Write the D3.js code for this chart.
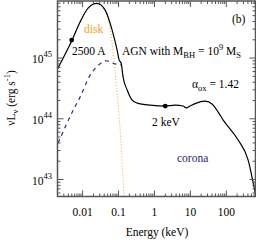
<!DOCTYPE html>
<html>
<head>
<meta charset="utf-8">
<script src="https://cdn.jsdelivr.net/npm/d3@7"></script>
<style>
body { margin: 0; background: #fff; }
svg text { font-family: "Liberation Serif", "Times New Roman", serif; }
</style>
</head>
<body>
<svg id="chart" width="256" height="240"></svg>
<script>
// energy in keV, luminosity as log10(nu L_nu)
const totalE = [0.002, 0.0051, 0.0085, 0.0142, 0.0249, 0.0424, 0.0664, 0.0914, 0.104, 0.118, 0.134, 0.174, 0.239, 0.33, 0.76, 2, 3.77, 6.3, 7.64, 9.87, 13.6, 25.8, 40.7, 59.4, 82, 214, 406, 600, 660];
const totalL = [44.82, 45.297, 45.593, 45.824, 45.90, 45.79, 45.461, 45.132, 44.967, 44.918, 44.687, 44.473, 44.308, 44.259, 44.226, 44.21, 44.226, 44.21, 44.18, 44.21, 44.25, 44.29, 44.24, 44.11, 43.979, 43.65, 43.32, 42.86, 42.74];

const diskE = [0.002, 0.0051, 0.0085, 0.0142, 0.0249, 0.0424, 0.065, 0.0804, 0.106, 0.143];
const diskL = [44.82, 45.297, 45.593, 45.824, 45.90, 45.774, 45.297, 44.753, 43.979, 42.718];

const coronaE = [0.00208, 0.00347, 0.0058, 0.0085, 0.0162, 0.0249, 0.0452, 0.0721, 0.116];
const coronaL = [43.6, 43.896, 44.171, 44.357, 44.72, 44.857, 44.956, 44.913, 44.885];

const markE = [0.00496, 2];
const markL = [45.297, 44.21];

const xMajor = [0.01, 0.1, 1, 10, 100];
const xMajorLabels = ["0.01", "0.1", "1", "10", "100"];
const yMajor = [43, 44, 45];

const svg = d3.select("#chart");

const x = d3.scaleLog().domain([0.002, 650]).range([57.5, 255.5]);
const y = d3.scaleLog().domain([Math.pow(10, 42.72), Math.pow(10, 45.94)]).range([196.5, 1]);

const x0 = 57.5, x1 = 255.5, y0 = 196.5, y1 = 1;

svg.append("defs").append("clipPath").attr("id", "clip")
.append("rect")
.attr("x", x0).attr("y", y1)
.attr("width", x1 - x0).attr("height", y0 - y1);

const line = d3.line()
.x(d => x(d[0]))
.y(d => y(Math.pow(10, d[1])))
.curve(d3.curveMonotoneX);

const plot = svg.append("g").attr("clip-path", "url(#clip)");

plot.append("path")
.datum(coronaE.map((e, i) => [e, coronaL[i]]))
.attr("d", line)
.attr("fill", "none")
.attr("stroke", "#2b2b8f")
.attr("stroke-width", 1.2)
.attr("stroke-dasharray", "4,4");

plot.append("path")
.datum(diskE.map((e, i) => [e, diskL[i]]))
.attr("d", line)
.attr("fill", "none")
.attr("stroke", "#ffa030")
.attr("stroke-width", 1)
.attr("stroke-dasharray", "1,2");

plot.append("path")
.datum(totalE.map((e, i) => [e, totalL[i]]))
.attr("d", line)
.attr("fill", "none")
.attr("stroke", "#000")
.attr("stroke-width", 1.2);

plot.selectAll(".mark")
.data(markE.map((e, i) => [e, markL[i]]))
.join("circle")
.attr("class", "mark")
.attr("cx", d => x(d[0]))
.attr("cy", d => y(Math.pow(10, d[1])))
.attr("r", 2.4)
.attr("fill", "#000");

// frame and ticks
const axisColor = "#555";
svg.append("rect")
.attr("x", x0).attr("y", y1)
.attr("width", x1 - x0).attr("height", y0 - y1)
.attr("fill", "none")
.attr("stroke", axisColor)
.attr("stroke-width", 1.5);

const isMajor = v => Math.abs(Math.log10(v) - Math.round(Math.log10(v))) < 1e-6;

const xt = x.ticks();
svg.selectAll(".xtick")
.data(xt.concat(xt))
.join("line")
.attr("class", "xtick")
.attr("x1", d => x(d)).attr("x2", d => x(d))
.attr("y1", (d, i) => i < xt.length ? y0 : y1)
.attr("y2", (d, i) => {
	let len = isMajor(d) ? 6 : 3;
	return i < xt.length ? y0 - len : y1 + len;
})
.attr("stroke", axisColor)
.attr("stroke-width", 1);

const yt = y.ticks();
svg.selectAll(".ytick")
.data(yt.concat(yt))
.join("line")
.attr("class", "ytick")
.attr("y1", d => y(d)).attr("y2", d => y(d))
.attr("x1", (d, i) => i < yt.length ? x0 : x1)
.attr("x2", (d, i) => {
	let len = isMajor(d) ? 6 : 3;
	return i < yt.length ? x0 + len : x1 - len;
})
.attr("stroke", axisColor)
.attr("stroke-width", 1);

// tick labels
svg.selectAll(".xlab")
.data(xMajor)
.join("text")
.attr("class", "xlab")
.attr("x", d => x(d))
.attr("y", 216)
.attr("text-anchor", "middle")
.attr("font-size", 11.5)
.text((d, i) => xMajorLabels[i]);

const ylab = svg.selectAll(".ylab")
.data(yMajor)
.join("text")
.attr("class", "ylab")
.attr("x", 52)
.attr("y", d => y(Math.pow(10, d)) + 5)
.attr("text-anchor", "end")
.attr("font-size", 11.5);
ylab.append("tspan").text("10");
ylab.append("tspan").attr("dy", -6).attr("font-size", 8.5).text(d => d);

// axis titles
svg.append("text")
.attr("x", 157).attr("y", 236)
.attr("text-anchor", "middle")
.attr("font-size", 11.5)
.text("Energy (keV)");

const yt2 = svg.append("text")
.attr("transform", "translate(15,98) rotate(-90)")
.attr("text-anchor", "middle")
.attr("font-size", 11.5);
yt2.append("tspan").text("\u03bdL");
yt2.append("tspan").attr("dy", 3).attr("font-size", 8.5).text("\u03bd");
yt2.append("tspan").attr("dy", -3).text(" (erg s");
yt2.append("tspan").attr("dy", -5).attr("font-size", 8.5).text("-1");
yt2.append("tspan").attr("dy", 5).text(")");

// annotations
svg.append("text").attr("x", 84).attr("y", 33)
.attr("font-size", 11.5).attr("fill", "#ffa020").text("disk");

svg.append("text").attr("x", 72).attr("y", 55)
.attr("font-size", 11.5).text("2500 A");

svg.append("text").attr("x", 232).attr("y", 23)
.attr("font-size", 11.5).text("(b)");

const agn = svg.append("text").attr("x", 122).attr("y", 55).attr("font-size", 11.5);
agn.append("tspan").text("AGN with M");
agn.append("tspan").attr("dy", 3).attr("font-size", 8.5).text("BH");
agn.append("tspan").attr("dy", -3).text(" = 10");
agn.append("tspan").attr("dy", -5).attr("font-size", 8.5).text("9");
agn.append("tspan").attr("dy", 5).text(" M");
agn.append("tspan").attr("dy", 3).attr("font-size", 8.5).text("S");

const aox = svg.append("text").attr("x", 192).attr("y", 88).attr("font-size", 11.5);
aox.append("tspan").text("\u03b1");
aox.append("tspan").attr("dy", 3).attr("font-size", 8.5).text("ox");
aox.append("tspan").attr("dy", -3).text(" = 1.42");

svg.append("text").attr("x", 152).attr("y", 126)
.attr("font-size", 11.5).text("2 keV");

svg.append("text").attr("x", 177).attr("y", 162)
.attr("font-size", 11.5).attr("fill", "#1c1c80").text("corona");
</script>
</body>
</html>
